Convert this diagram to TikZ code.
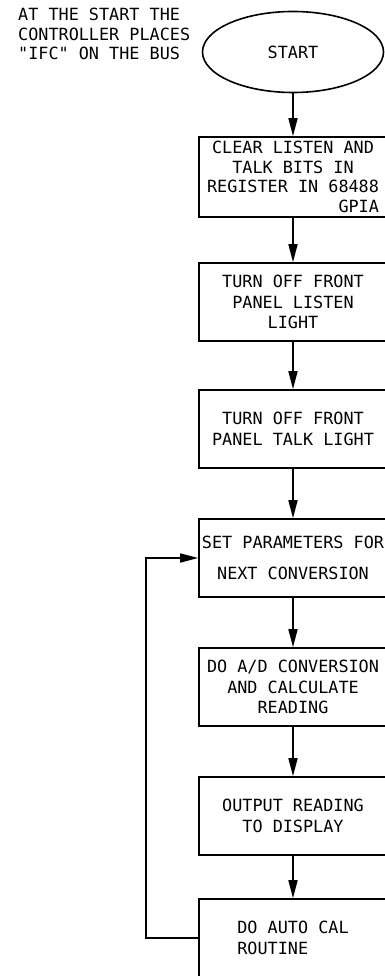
\documentclass[tikz,border=0pt]{standalone}
\usepackage{fontspec}
\setmonofont{DejaVu Sans Mono}
\usetikzlibrary{arrows.meta,positioning,shapes.geometric}

\begin{document}
\begin{tikzpicture}[x=1pt,y=-1pt,font=\ttfamily\fontsize{16.8}{20.5}\selectfont,
    blk/.style={draw,line width=1.6pt,minimum width=188pt,minimum height=78pt,inner sep=0pt,align=center},
    flow/.style={-{Triangle[length=18pt,width=9pt]},line width=1.6pt}]
    \useasboundingbox (0,0) rectangle (385,976);
    \node[anchor=north west,align=left,inner sep=0pt,font=\ttfamily\fontsize{16.8}{19.5}\selectfont] (note) at (18,8)
      {AT THE START THE\\CONTROLLER PLACES\\"IFC" ON THE BUS};
    \node[draw,ellipse,line width=1.6pt,minimum width=181pt,minimum height=81pt,inner sep=0pt] (start) at (293,52) {START};
    \node[blk,minimum height=80pt,font=\ttfamily\fontsize{16.8}{19.5}\selectfont] (clear) at (293,177)
      {CLEAR LISTEN AND\\TALK BITS IN\\REGISTER IN 68488\\\phantom{REGISTER IN 6}GPIA};
    \node[blk] (listen) at (293,302) {TURN OFF FRONT\\PANEL LISTEN\\LIGHT};
    \node[blk] (talk) at (293,429) {TURN OFF FRONT\\PANEL TALK LIGHT};
    \node[blk] (param) at (293,558) {SET PARAMETERS FOR\\[11pt]NEXT CONVERSION};
    \node[blk] (convert) at (293,687) {DO A/D CONVERSION\\AND CALCULATE\\READING};
    \node[blk] (output) at (293,816) {OUTPUT READING\\TO DISPLAY};
    \node[blk,align=left] (autocal) at (293,938) {DO AUTO CAL\\ROUTINE};
    % main flow
    \draw[flow] (start) -- (clear);
    \foreach \a/\b in {clear/listen,listen/talk,talk/param,param/convert,convert/output,output/autocal}
      {\draw[flow] (\a) -- (\b);}
    % loop back
    \draw[flow] (autocal.west) -- ++(-52,0) |- (param.west);
\end{tikzpicture}
\end{document}
